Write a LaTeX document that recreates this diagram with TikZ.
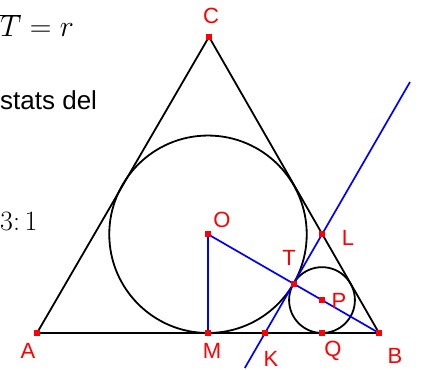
\RequirePackage{fix-cm}
\documentclass[tikz,border=0pt]{standalone}
\usepackage{fontspec}
\setmainfont{Liberation Sans}
\begin{document}
\begin{tikzpicture}[x=1pt,y=1pt,
  edge/.style={line width=1.8pt, black},
  blueline/.style={line width=1.7pt, blue},
  mark sq/.style={fill=red, draw=none, rectangle, minimum size=6pt, inner sep=0pt},
  lbl/.style={text=red, font=\fontsize{22}{26}\selectfont, inner sep=0pt},
  side/.style={inner sep=0pt, anchor=base west}]
\useasboundingbox (0,0) rectangle (421,370);
% geometry (equilateral triangle, incircle, small circle r/3)
\coordinate (A) at (37,37);
\coordinate (B) at (379,37);
\coordinate (C) at (209,333.18);
\coordinate (O) at (208,135.73);
\coordinate (M) at (208,37);
\coordinate (T) at (293.5,86.37);
\coordinate (P) at (322,69.91);
\coordinate (Q) at (322,37);
\coordinate (K) at (265,37);
\coordinate (L) at (322,135.73);
\coordinate (kbot) at (244.8,2);
\coordinate (ltop) at (410,288);
% figure
\draw[edge] (A) -- (B) -- (C) -- cycle;
\draw[edge] (O) circle (98.73);
\draw[edge] (P) circle (32.91);
\draw[blueline] (O) -- (M);
\draw[blueline] (O) -- (B);
\draw[blueline] (kbot) -- (ltop);
% points
\foreach \p in {A,B,C,O,M,T,P,Q,K,L}
  \node[mark sq] (m\p) at (\p) {};
% labels
\node[lbl] (lC) at (211,354) {C};
\node[lbl] (lA) at (28,19) {A};
\node[lbl] (lB) at (395,14) {B};
\node[lbl] (lM) at (212,19) {M};
\node[lbl] (lK) at (271,11) {K};
\node[lbl] (lQ) at (333,19) {Q};
\node[lbl] (lO) at (222,150) {O};
\node[lbl] (lL) at (348,132) {L};
\node[lbl] (lT) at (289,112) {T};
\node[lbl] (lP) at (339,69) {P};
% side text
\node[side, font=\fontsize{30}{36}\selectfont] (t1) at (0,333) {$\overline{T}=r$};
\node[side, font=\fontsize{26}{32}\selectfont] (t2) at (0,260) {stats del};
\node[side, font=\fontsize{28}{34}\selectfont] (t3) at (0,139) {$3\colon 1$};
\end{tikzpicture}
\end{document}
